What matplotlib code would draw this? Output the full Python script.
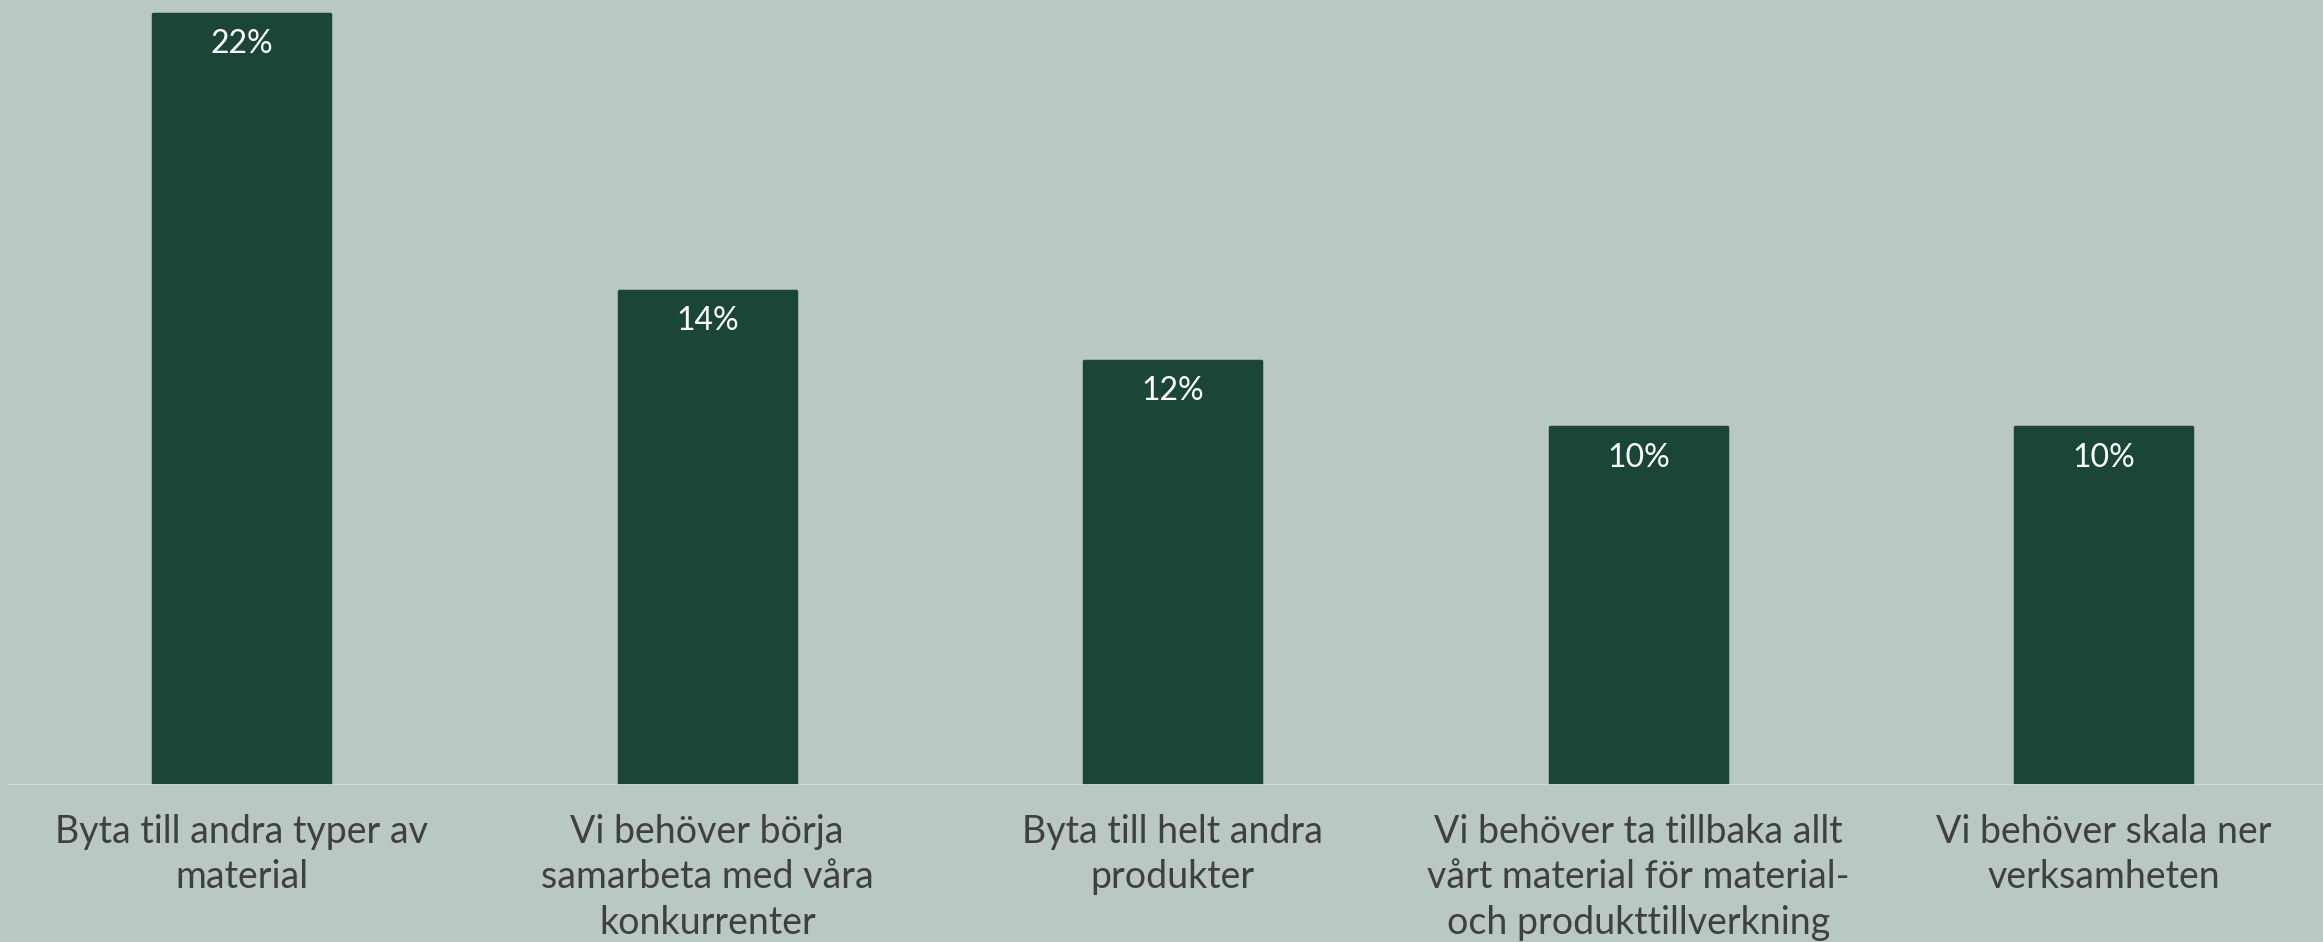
import matplotlib.pyplot as plt

categories = [
    "Byta till andra typer av\nmaterial",
    "Vi behöver börja\nsamarbeta med våra\nkonkurrenter",
    "Byta till helt andra\nprodukter",
    "Vi behöver ta tillbaka allt\nvårt material för material-\noch produkttillverkning",
    "Vi behöver skala ner\nverksamheten",
]
values = [22.0, 14.1, 12.1, 10.2, 10.2]

BG = "#bac8c3"
BAR = "#1b4637"
TEXT = "#404040"

plt.rcParams["font.family"] = ["Lato", "DejaVu Sans"]


def main():
    W, H = 2323, 942
    fig = plt.figure(figsize=(W / 100, H / 100), dpi=100, facecolor=BG)

    base_px = 785
    left_px = 9
    ax = fig.add_axes([left_px / W, (H - base_px) / H, (W - left_px) / W, base_px / H])
    ax.set_facecolor(BG)

    x = list(range(len(values)))
    bars = ax.bar(x, values, width=0.38, color=BAR, edgecolor=BAR,
                  linewidth=2.5, joinstyle="round", zorder=2)

    step_px = 465.5
    ax.set_xlim(-0.5, -0.5 + (W - left_px) / step_px)
    ax.set_ylim(0, base_px / (773 / 22.0) + 0.05)

    for b, v in zip(bars, values):
        ax.annotate(f"{v:.0f}%", (b.get_x() + b.get_width() / 2, v),
                    xytext=(0, -22), textcoords="offset points",
                    ha="center", va="center", color="white",
                    fontsize=23, fontweight="normal")

    ax.axhline(0, color="#dcdcdc", linewidth=2, zorder=3)

    ax.set_xticks(x)
    ax.set_xticklabels(categories, fontsize=27, color=TEXT, linespacing=1.32)
    ax.tick_params(axis="x", length=0, pad=21)
    ax.set_yticks([])
    for s in ax.spines.values():
        s.set_visible(False)

    fig.savefig("out.png", dpi=100, facecolor=BG)
    plt.close(fig)


if __name__ == "__main__":
    main()
